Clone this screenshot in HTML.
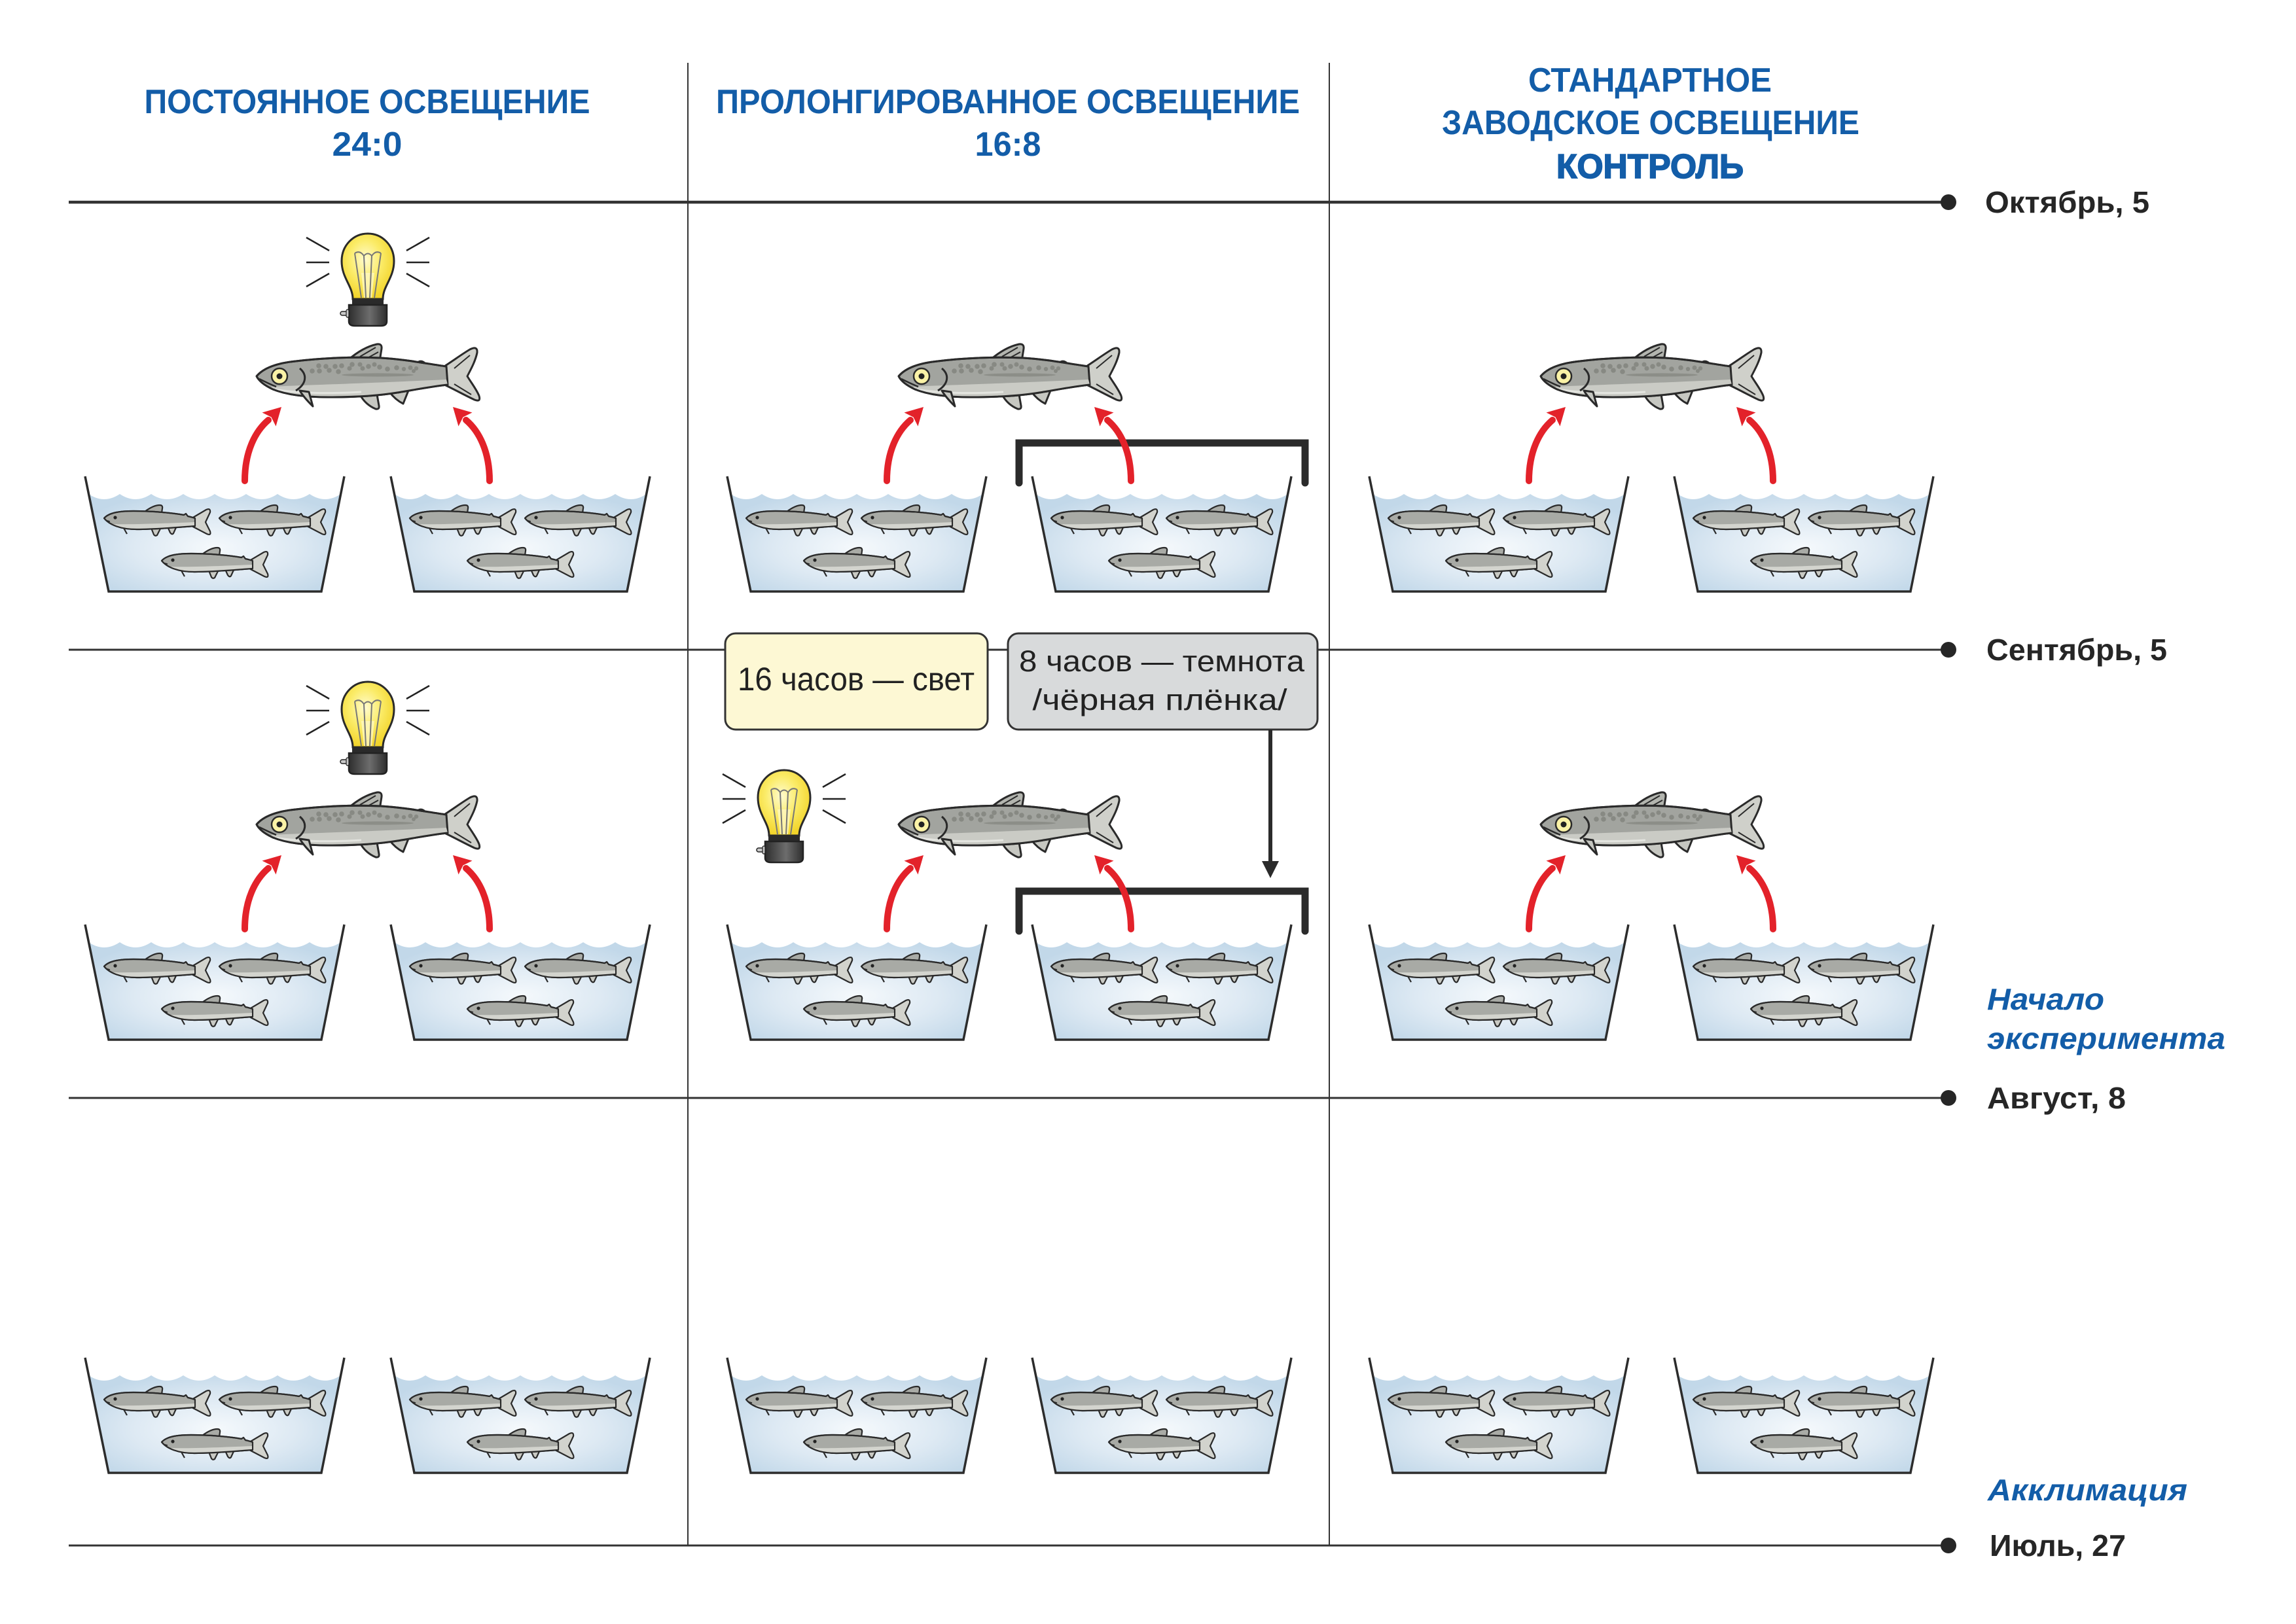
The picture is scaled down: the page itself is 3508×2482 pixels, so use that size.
<!DOCTYPE html>
<html>
<head>
<meta charset="utf-8">
<style>
html,body{margin:0;padding:0;background:#fff;}
svg{display:block;}
</style>
</head>
<body>
<svg xmlns="http://www.w3.org/2000/svg" xmlns:xlink="http://www.w3.org/1999/xlink" width="3508" height="2482" viewBox="0 0 3508 2482">
<defs>
  <radialGradient id="water" cx="0.5" cy="0.55" r="0.6">
    <stop offset="0" stop-color="#f5f9fc"/>
    <stop offset="0.55" stop-color="#dde9f3"/>
    <stop offset="1" stop-color="#c2d8e9"/>
  </radialGradient>
  <radialGradient id="glass" cx="0.45" cy="0.4" r="0.6">
    <stop offset="0" stop-color="#fffbd0"/>
    <stop offset="0.5" stop-color="#fbec6a"/>
    <stop offset="1" stop-color="#f2d42a"/>
  </radialGradient>
  <linearGradient id="sock" x1="0" y1="0" x2="1" y2="0">
    <stop offset="0" stop-color="#2e2e2e"/>
    <stop offset="0.55" stop-color="#6d6d6d"/>
    <stop offset="1" stop-color="#2e2e2e"/>
  </linearGradient>

  <!-- small fish: 0..163 x 0..48, nose at left -->
  <g id="sf" stroke="#2a2a2a" stroke-width="2.2" stroke-linejoin="round">
    <path d="M62,10 C70,4 78,0 85,0 Q90,0 89,5 L88,12 Z" fill="#a9aba6"/>
    <path d="M72,35 L76,45 Q78,48 81,46 L86,36 Z" fill="#c9cac4"/>
    <path d="M97,33 L101,42 Q104,46 106,43 L111,32 Z" fill="#c9cac4"/>
    <path d="M134,20 L156,7 Q163,4 162,11 L155,26 L162,40 Q164,47 157,44 L134,32 Z" fill="#d2d3cd"/>
    <path d="M0,20 C8,11 25,9 45,9 C75,9 105,12 122,15 L125,13 L128,17 C133,18 136,19 139,20 L139,32 C110,34 80,37 50,37 C25,37 8,30 0,20 Z" fill="#a8aaa5"/>
    <path d="M14,29 C40,30 90,28 138,26 L138,32 C110,34 80,37 50,37 C30,37 20,33 14,29 Z" fill="#d3d4ce" stroke="none"/>
    <path d="M0,20 C8,11 25,9 45,9 C75,9 105,12 122,15 L125,13 L128,17 C133,18 136,19 139,20 M139,32 C110,34 80,37 50,37 C25,37 8,30 0,20" fill="none"/>
    <path d="M30,35 L35,44" fill="none"/>
    <circle cx="17" cy="19" r="2.6" fill="#222" stroke="none"/>
    <path d="M2,23 L9,25" fill="none" stroke-width="1.6"/>
  </g>

  <!-- tank: origin top-left -->
  <g id="tank">
    <path d="M5.5,27 Q29,43 53,27 Q77,43 101,27 Q125,43 150,27 Q174,43 198,27 Q222,43 246,27 Q270,43 294,27 Q318,43 343,27 Q367,43 390.6,27 L361,176 L36,176 Z" fill="url(#water)"/>
    <use xlink:href="#sf" x="29" y="44"/>
    <use xlink:href="#sf" x="205" y="44"/>
    <use xlink:href="#sf" x="117" y="109"/>
    <path d="M0,0 L36,176 L361,176 L396,0" fill="none" stroke="#2c2c2c" stroke-width="3.5" stroke-linejoin="miter"/>
  </g>

  <!-- big fish: 0..340 x 0..100 -->
  <g id="bf" stroke="#2a2a2a" stroke-width="3" stroke-linejoin="round">
    <path d="M282,38 C298,28 314,16 326,9 Q338,3 337,14 C334,28 327,40 322,50 C328,60 336,70 340,80 Q343,90 333,86 C318,79 302,70 285,62 Z" fill="#cfd0ca"/>
    <path d="M302,38 L326,18 M302,62 L328,78" fill="none" stroke-width="2"/>
    <path d="M140,25 C155,12 170,4 184,1 Q192,0 191,8 L188,27 Z" fill="#b3b5af"/>
    <path d="M158,20 L182,6 M168,23 L186,13" fill="none" stroke-width="2"/>
    <path d="M158,78 C163,88 172,96 182,100 Q188,101 187,95 L184,78 Z" fill="#c6c7c1"/>
    <path d="M203,74 C209,82 216,88 224,92 L232,72 Z" fill="#c6c7c1"/>
    <path d="M244,32 Q249,24 256,29 L258,35 Z" fill="#a0a29d"/>
    <path d="M0,50 C10,38 30,30 60,27 C100,22 150,20 190,22 C225,24 255,30 290,35 L292,63 C265,66 240,71 215,75 C185,80 150,82 110,82 C75,82 45,78 25,70 C12,64 4,58 0,50 Z" fill="#a2a49f"/>
    <path d="M22,66 C60,64 140,62 290,55 L292,63 C265,66 240,71 215,75 C185,80 150,82 110,82 C75,82 45,78 25,70 Z" fill="#cacbc5" stroke="none"/>
    <path d="M28,70 C60,76 110,77 160,74" fill="none" stroke="#e4e5e0" stroke-width="3"/>
    <ellipse cx="185" cy="48" rx="55" ry="2.6" fill="#8c8e88" stroke="none"/>
    <g fill="#878983" stroke="none">
      <circle cx="95" cy="34" r="3.8"/><circle cx="106" cy="35" r="3.8"/><circle cx="120" cy="35" r="3.8"/>
      <circle cx="130" cy="34" r="3.8"/><circle cx="146" cy="32" r="3.8"/><circle cx="158" cy="32" r="3.5"/>
      <circle cx="171" cy="35" r="3.8"/><circle cx="180" cy="32" r="3.5"/><circle cx="188" cy="36" r="3.8"/>
      <circle cx="200" cy="39" r="3.8"/><circle cx="214" cy="37" r="3.8"/><circle cx="225" cy="39" r="3.2"/>
      <circle cx="235" cy="37" r="3.5"/><circle cx="244" cy="38" r="3.2"/><circle cx="85" cy="42" r="3.8"/>
      <circle cx="96" cy="42" r="3.8"/><circle cx="111" cy="41" r="3.8"/><circle cx="125" cy="43" r="3.8"/>
      <circle cx="142" cy="38" r="3.5"/><circle cx="162" cy="38" r="3.5"/><circle cx="240" cy="42" r="3"/>
    </g>
    <path d="M0,50 C10,38 30,30 60,27 C100,22 150,20 190,22 C225,24 255,30 290,35 M292,63 C265,66 240,71 215,75 C185,80 150,82 110,82 C75,82 45,78 25,70 C12,64 4,58 0,50" fill="none"/>
    <path d="M66,38 C78,48 76,62 60,72" fill="none"/>
    <path d="M66,72 C72,82 80,90 86,96 L80,74 Z" fill="#c6c7c1"/>
    <circle cx="35" cy="50" r="12" fill="#faf2a6" stroke-width="2.5"/>
    <circle cx="35" cy="50" r="4.5" fill="#222" stroke="none"/>
    <path d="M4,54 C12,58 20,62 30,66" fill="none" stroke-width="2.5"/>
  </g>

  <!-- bulb: origin at glass top center -->
  <g id="bulb">
    <g stroke="#222" stroke-width="2.5" stroke-linecap="butt">
      <line x1="-94" y1="6" x2="-59" y2="26"/>
      <line x1="-94" y1="44" x2="-59" y2="44"/>
      <line x1="-94" y1="81" x2="-59" y2="61"/>
      <line x1="94" y1="6" x2="59" y2="26"/>
      <line x1="94" y1="44" x2="59" y2="44"/>
      <line x1="94" y1="81" x2="59" y2="61"/>
    </g>
    <path d="M-23,100 C-23,80 -40,68 -40,42 C-40,18 -22,0 0,0 C22,0 40,18 40,42 C40,68 23,80 23,100 Z" fill="url(#glass)" stroke="#2a2a2a" stroke-width="3"/>
    <path d="M-10,60 L-6,98 L6,98 L10,60 Z" fill="#fff7c0" stroke="none" opacity="0.8"/>
    <path d="M-20,30 L-10,98 M20,30 L10,98 M-20,30 Q-12,25 -6,34 Q0,27 6,34 Q12,25 20,30 M-6,34 L-3,98 M6,34 L3,98" fill="none" stroke="#777" stroke-width="2"/>
    <rect x="-24" y="99" width="48" height="10" fill="#2a2a2a"/>
    <path d="M-29,109 L29,109 L29,134 Q29,141 20,141 L-20,141 Q-29,141 -29,134 Z" fill="url(#sock)" stroke="#222" stroke-width="2.5"/>
    <rect x="-42" y="119" width="14" height="6" rx="3" fill="#c8c8c8" stroke="#222" stroke-width="1.5"/>
    <rect x="-33" y="116" width="4" height="12" rx="2" fill="#c8c8c8" stroke="#222" stroke-width="1.2"/>
  </g>

  <!-- arrows: origin at base -->
  <g id="arrL">
    <path d="M0,0 C0,-45 16,-76 36,-93" fill="none" stroke="#e3222a" stroke-width="10" stroke-linecap="round"/>
    <polygon points="56,-113 47.5,-83.5 40.5,-97.5 26.5,-104.5" fill="#e3222a"/>
  </g>
  <g id="arrR" transform="scale(-1,1)">
    <use xlink:href="#arrL"/>
  </g>
</defs>

<rect x="0" y="0" width="3508" height="2482" fill="#fff"/>

<!-- grid lines -->
<g stroke="#333" fill="none">
  <line x1="1051" y1="96" x2="1051" y2="2362" stroke-width="2"/>
  <line x1="2031" y1="96" x2="2031" y2="2362" stroke-width="2"/>
  <line x1="105" y1="309" x2="2977" y2="309" stroke-width="4.5"/>
  <line x1="105" y1="993" x2="2977" y2="993" stroke-width="3"/>
  <line x1="105" y1="1678" x2="2977" y2="1678" stroke-width="3"/>
  <line x1="105" y1="2362" x2="2977" y2="2362" stroke-width="3"/>
</g>
<g fill="#262626">
  <circle cx="2977" cy="309" r="12"/>
  <circle cx="2977" cy="993" r="12"/>
  <circle cx="2977" cy="1678" r="12"/>
  <circle cx="2977" cy="2362" r="12"/>
</g>

<!-- tanks -->
<use xlink:href="#tank" x="130" y="728"/>
<use xlink:href="#tank" x="597" y="728"/>
<use xlink:href="#tank" x="1111" y="728"/>
<use xlink:href="#tank" x="1577" y="728"/>
<use xlink:href="#tank" x="2092" y="728"/>
<use xlink:href="#tank" x="2558" y="728"/>

<use xlink:href="#tank" x="130" y="1413"/>
<use xlink:href="#tank" x="597" y="1413"/>
<use xlink:href="#tank" x="1111" y="1413"/>
<use xlink:href="#tank" x="1577" y="1413"/>
<use xlink:href="#tank" x="2092" y="1413"/>
<use xlink:href="#tank" x="2558" y="1413"/>

<use xlink:href="#tank" x="130" y="2075"/>
<use xlink:href="#tank" x="597" y="2075"/>
<use xlink:href="#tank" x="1111" y="2075"/>
<use xlink:href="#tank" x="1577" y="2075"/>
<use xlink:href="#tank" x="2092" y="2075"/>
<use xlink:href="#tank" x="2558" y="2075"/>

<!-- brackets (black film covers) -->
<g fill="none" stroke="#2b2b2b" stroke-width="11" stroke-linecap="round" stroke-linejoin="miter">
  <path d="M1557,738 L1557,677 L1994,677 L1994,738"/>
  <path d="M1557,1423 L1557,1362 L1994,1362 L1994,1423"/>
</g>

<!-- arrows -->
<use xlink:href="#arrL" transform="translate(374,735)"/>
<use xlink:href="#arrR" transform="translate(748,735)"/>
<use xlink:href="#arrL" transform="translate(1355,735)"/>
<use xlink:href="#arrR" transform="translate(1728,735)"/>
<use xlink:href="#arrL" transform="translate(2336,735)"/>
<use xlink:href="#arrR" transform="translate(2709,735)"/>

<use xlink:href="#arrL" transform="translate(374,1420)"/>
<use xlink:href="#arrR" transform="translate(748,1420)"/>
<use xlink:href="#arrL" transform="translate(1355,1420)"/>
<use xlink:href="#arrR" transform="translate(1728,1420)"/>
<use xlink:href="#arrL" transform="translate(2336,1420)"/>
<use xlink:href="#arrR" transform="translate(2709,1420)"/>

<!-- big fish -->
<use xlink:href="#bf" x="392" y="525"/>
<use xlink:href="#bf" x="1373" y="525"/>
<use xlink:href="#bf" x="2354" y="525"/>
<use xlink:href="#bf" x="392" y="1210"/>
<use xlink:href="#bf" x="1373" y="1210"/>
<use xlink:href="#bf" x="2354" y="1210"/>

<!-- bulbs -->
<use xlink:href="#bulb" x="562" y="357"/>
<use xlink:href="#bulb" x="562" y="1042"/>
<use xlink:href="#bulb" x="1198" y="1177"/>

<!-- info boxes -->
<rect x="1108" y="968" width="401" height="147" rx="16" ry="16" fill="#fdf8d4" stroke="#333" stroke-width="3"/>
<rect x="1540" y="968" width="473" height="147" rx="16" ry="16" fill="#d8dadb" stroke="#333" stroke-width="3"/>
<g font-family="'Liberation Sans', sans-serif" fill="#222" text-anchor="middle">
  <text x="1308" y="1055" font-size="50" textLength="362" lengthAdjust="spacingAndGlyphs">16 часов — свет</text>
  <text x="1775" y="1026" font-size="45" textLength="436" lengthAdjust="spacingAndGlyphs">8 часов — темнота</text>
  <text x="1772" y="1085" font-size="45" textLength="389" lengthAdjust="spacingAndGlyphs">/чёрная плёнка/</text>
</g>

<!-- connector to second bracket -->
<line x1="1941" y1="1115" x2="1941" y2="1320" stroke="#2b2b2b" stroke-width="6"/>
<polygon points="1928,1316 1954,1316 1941,1342" fill="#2b2b2b"/>

<!-- headers -->
<g font-family="'Liberation Sans', sans-serif" font-weight="bold" fill="#135da8" text-anchor="middle" font-size="52">
  <text x="561" y="173" textLength="681" lengthAdjust="spacingAndGlyphs">ПОСТОЯННОЕ ОСВЕЩЕНИЕ</text>
  <text x="561" y="238" textLength="107" lengthAdjust="spacingAndGlyphs">24:0</text>
  <text x="1540" y="173" textLength="892" lengthAdjust="spacingAndGlyphs">ПРОЛОНГИРОВАННОЕ ОСВЕЩЕНИЕ</text>
  <text x="1540" y="238" textLength="101" lengthAdjust="spacingAndGlyphs">16:8</text>
  <text x="2521" y="140" textLength="372" lengthAdjust="spacingAndGlyphs">СТАНДАРТНОЕ</text>
  <text x="2522" y="205" textLength="638" lengthAdjust="spacingAndGlyphs">ЗАВОДСКОЕ ОСВЕЩЕНИЕ</text>
  <text x="2521" y="272" textLength="286" lengthAdjust="spacingAndGlyphs" stroke="#135da8" stroke-width="1.8">КОНТРОЛЬ</text>
</g>

<!-- timeline labels -->
<g font-family="'Liberation Sans', sans-serif" font-weight="bold" fill="#262626" font-size="46">
  <text x="3033" y="325" textLength="251" lengthAdjust="spacingAndGlyphs">Октябрь, 5</text>
  <text x="3035" y="1009" textLength="276" lengthAdjust="spacingAndGlyphs">Сентябрь, 5</text>
  <text x="3036" y="1694" textLength="212" lengthAdjust="spacingAndGlyphs">Август, 8</text>
  <text x="3040" y="2378" textLength="208" lengthAdjust="spacingAndGlyphs">Июль, 27</text>
</g>
<g font-family="'Liberation Sans', sans-serif" font-weight="bold" font-style="italic" fill="#135da8" font-size="46">
  <text x="3036" y="1543" textLength="179" lengthAdjust="spacingAndGlyphs">Начало</text>
  <text x="3036" y="1603" textLength="364" lengthAdjust="spacingAndGlyphs">эксперимента</text>
  <text x="3037" y="2293" textLength="305" lengthAdjust="spacingAndGlyphs">Акклимация</text>
</g>
</svg>
</body>
</html>
